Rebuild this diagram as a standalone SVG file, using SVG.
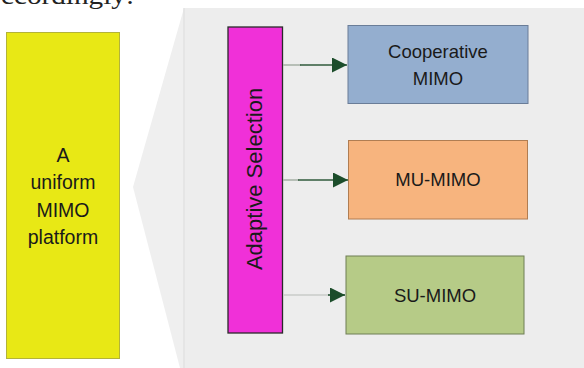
<svg xmlns="http://www.w3.org/2000/svg" width="584" height="368" viewBox="0 0 584 368">
  <defs>
    <style>
      .lbl { font-family: "Liberation Sans", Arial, sans-serif; fill: #1a1a1a; text-anchor: middle; }
      .conn { fill: none; stroke-width: 1.6; }
    </style>
    <marker id="ah" viewBox="0 0 10 10" refX="10" refY="5" markerWidth="19" markerHeight="15" markerUnits="userSpaceOnUse" orient="auto">
      <path d="M0,0 L10,5 L0,10 Z" fill="#1c4d2b"/>
    </marker>
  </defs>
  <rect x="0" y="0" width="584" height="368" fill="#ffffff"/>
  <text x="1" y="4" font-family="Liberation Serif, Times New Roman, serif" font-size="25" fill="#222" textLength="133" lengthAdjust="spacingAndGlyphs">ccordingly:</text>

  <g id="background">
    <polygon points="184,8 584,8 584,368 180,368 133,187" fill="#efefef"/>
    <rect x="184" y="8" width="400" height="360" fill="#ededed"/>
    <line x1="184" y1="8" x2="184" y2="368" stroke="#e2e2e2" stroke-width="1.5"/>
  </g>

  <g id="platform">
    <rect x="6.5" y="32.5" width="113" height="326" fill="#e8e815" stroke="#b3b339" stroke-width="1"/>
    <text class="lbl" font-size="19.5" x="63" y="161.5">A</text>
    <text class="lbl" font-size="19.5" x="63" y="189">uniform</text>
    <text class="lbl" font-size="19.5" x="63" y="216.5">MIMO</text>
    <text class="lbl" font-size="19.5" x="63" y="243.5">platform</text>
  </g>

  <g id="adaptive">
    <rect x="228" y="27" width="54.5" height="306" fill="#f030d8" stroke="#2a2a2a" stroke-width="1.3"/>
    <text class="lbl" font-size="22" transform="translate(262,179) rotate(-90)" x="0" y="0">Adaptive Selection</text>
  </g>

  <g id="coop">
    <rect x="348" y="25.5" width="180" height="78" fill="#94aecf" stroke="#6a7d98" stroke-width="1"/>
    <text class="lbl" font-size="18.5" x="438" y="58">Cooperative</text>
    <text class="lbl" font-size="18.5" x="438" y="85">MIMO</text>
  </g>

  <g id="mu">
    <rect x="348.5" y="140.5" width="179" height="78.5" fill="#f7b47e" stroke="#b07d52" stroke-width="1"/>
    <text class="lbl" font-size="18.5" x="438" y="186">MU-MIMO</text>
  </g>

  <g id="su">
    <rect x="346" y="256" width="178" height="78" fill="#b6cb87" stroke="#6f7f55" stroke-width="1"/>
    <text class="lbl" font-size="18.5" x="435" y="301.5">SU-MIMO</text>
  </g>

  <g id="connectors">
    <line class="conn" x1="283" y1="65" x2="301" y2="65" stroke="#a9b3a9"/>
    <line class="conn" x1="300" y1="65" x2="347" y2="65" stroke="#2f5a3b" marker-end="url(#ah)"/>
    <line class="conn" x1="283" y1="180" x2="299" y2="180" stroke="#a9b3a9"/>
    <line class="conn" x1="298" y1="180" x2="348" y2="180" stroke="#2f5a3b" marker-end="url(#ah)"/>
    <line class="conn" x1="283" y1="295" x2="329" y2="295" stroke="#c8cbc8" stroke-width="2"/>
    <line class="conn" x1="328" y1="295" x2="345" y2="295" stroke="#1c4d2b" stroke-width="0.5" marker-end="url(#ah)"/>
  </g>
</svg>
